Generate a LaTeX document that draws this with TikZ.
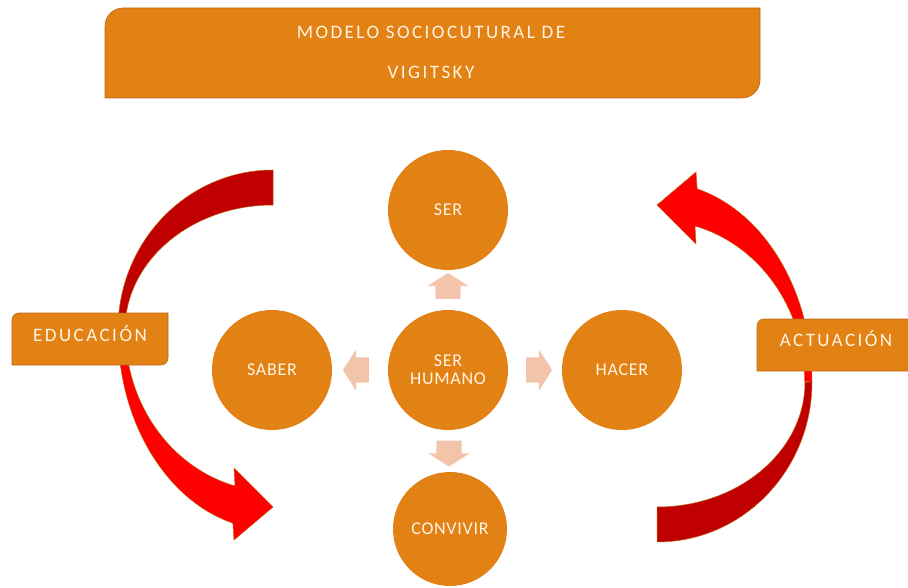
\documentclass[tikz,border=0pt]{standalone}
\usepackage{fontspec}
\setmainfont{Carlito}
\usetikzlibrary{shapes.arrows,calc}

\definecolor{naranja}{RGB}{227,130,20}
\definecolor{borde}{RGB}{190,100,20}
\definecolor{rosado}{RGB}{242,196,170}
\definecolor{rojo}{RGB}{255,0,0}
\definecolor{rojooscuro}{RGB}{192,0,0}
\definecolor{texto}{RGB}{255,244,230}

% box with top left and bottom right corners rounded: x1 y1 x2 y2 r
\newcommand{\diagbox}[5]{%
  \path[fill=naranja,draw=borde,line width=0.6pt] (#1,#4) -- (#1,{#2+#5})
    .. controls (#1,{#2+0.45*#5}) and ({#1+0.45*#5},#2) .. ({#1+#5},#2) -- (#3,#2) -- (#3,{#4-#5})
    .. controls (#3,{#4-0.45*#5}) and ({#3-0.45*#5},#4) .. ({#3-#5},#4) -- cycle;}

% the bent arrow, in two parts
\newcommand{\bentarrow}{%
  \path[fill=rojooscuro,draw=borde,line width=0.5pt] (273,170)
    arc[start angle=270, end angle=180, x radius=155, y radius=160] -- (125,330)
    arc[start angle=180, end angle=270, x radius=148, y radius=125] -- cycle;
  \path[fill=rojo,draw=borde,line width=0.5pt] (118,330)
    arc[start angle=180, end angle=105, x radius=155, y radius=200]
    -- (234,540) -- (273,507) -- (234,468) -- (235,486)
    arc[start angle=105, end angle=180, x radius=148, y radius=161] -- cycle;}

\begin{document}
\begin{tikzpicture}[x=1pt,y=-1pt]
    \tikzstyle{bubble}=[circle,fill=naranja,minimum size=120pt,inner sep=0pt,text=texto,align=center,font=\fontsize{18}{18}\selectfont\addfontfeatures{LetterSpace=4}]
    \tikzstyle{caption}=[text=texto,inner sep=0pt,text height=12pt,text depth=0pt,font=\fontsize{19}{20}\selectfont\addfontfeatures{LetterSpace=13}]
    \tikzstyle{pointer}=[single arrow,fill=rosado,inner xsep=0pt,inner ysep=12.5pt,minimum height=26pt,single arrow head extend=8pt,single arrow tip angle=115]
    \useasboundingbox (0,0) rectangle (908,588);

    % title
    \diagbox{105}{8}{760}{98}{18}
    \node[caption] (titulo1) at (431,33) {MODELO SOCIOCUTURAL DE};
    \node[caption] (titulo2) at (431,73) {VIGITSKY};

    % bent arrows
    \bentarrow
    \begin{scope}[rotate around={180:(465,356)}]
      \bentarrow
    \end{scope}

    % side labels
    \diagbox{12}{313}{168}{365}{7}
    \node[caption] (educacion) at (90,335) {EDUCACIÓN};
    \diagbox{757}{319}{920}{371}{7}
    \node[caption] (actuacion) at (836,340) {ACTUACIÓN};

    % circles
    \node[bubble] (humano) at (448,370) {SER\\HUMANO};
    \node[bubble] (ser) at (448,210) {SER};
    \node[bubble] (saber) at (272,370) {SABER};
    \node[bubble] (hacer) at (622,370) {HACER};
    \node[bubble,minimum size=114pt] (convivir) at (450,529) {CONVIVIR};

    \node[pointer,rotate=90] (p1) at ($(humano)!0.5!(ser)$) {};
    \node[pointer,rotate=180] (p2) at ($(humano)!0.5!(saber)$) {};
    \node[pointer] (p3) at ($(humano)!0.5!(hacer)$) {};
    \node[pointer,rotate=270] (p4) at ($(humano)!0.5!(convivir)$) {};
\end{tikzpicture}
\end{document}
